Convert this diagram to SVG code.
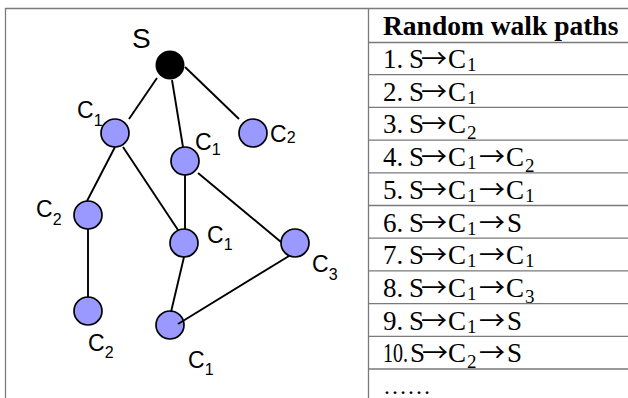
<svg xmlns="http://www.w3.org/2000/svg" width="628" height="398" viewBox="0 0 628 398">
<style>
.grid{stroke:#7a7a7a;stroke-width:1.3;fill:none}
.edge{stroke:#000;stroke-width:1.9;fill:none}
.node{fill:#9999ff;stroke:#000;stroke-width:1.7}
.lbl{font-family:"Liberation Sans",Arial,sans-serif;font-size:23px;fill:#000}
.sub{font-size:16px}
.t{font-family:"Liberation Serif","Times New Roman",serif;font-size:27px;fill:#000}
.ts{font-size:19px}
.ar{font-family:"Noto Sans CJK JP","DejaVu Sans",sans-serif;font-size:26px}
.hd{font-weight:bold;font-size:27.5px}
</style>
<rect width="628" height="398" fill="#fff"/>
<g id="table">
<path class="grid" d="M5 8.5H628M5.5 8V398M368.5 8V398"/>
<path class="grid" d="M368 42.5H628M368 74.7H628M368 107.4H628M368 140.1H628M368 172.8H628M368 205.5H628M368 238.2H628M368 270.9H628M368 303.6H628M368 336.3H628M368 369H628"/>
<text class="t hd" x="383" y="35">Random walk paths</text>
<text class="t" y="68"><tspan x="383">1.</tspan><tspan x="409">S</tspan><tspan class="ar" x="421">→</tspan><tspan x="448">C</tspan><tspan class="ts" x="467" dy="3">1</tspan></text>
<text class="t" y="100.7"><tspan x="383">2.</tspan><tspan x="409">S</tspan><tspan class="ar" x="421">→</tspan><tspan x="448">C</tspan><tspan class="ts" x="467" dy="3">1</tspan></text>
<text class="t" y="133.4"><tspan x="383">3.</tspan><tspan x="409">S</tspan><tspan class="ar" x="421">→</tspan><tspan x="448">C</tspan><tspan class="ts" x="467" dy="6">2</tspan></text>
<text class="t" y="166.1"><tspan x="383">4.</tspan><tspan x="409">S</tspan><tspan class="ar" x="421">→</tspan><tspan x="448">C</tspan><tspan class="ts" x="467" dy="3">1</tspan><tspan class="ar" x="479" dy="-3">→</tspan><tspan x="506">C</tspan><tspan class="ts" x="525" dy="6">2</tspan></text>
<text class="t" y="198.8"><tspan x="383">5.</tspan><tspan x="409">S</tspan><tspan class="ar" x="421">→</tspan><tspan x="448">C</tspan><tspan class="ts" x="467" dy="3">1</tspan><tspan class="ar" x="479" dy="-3">→</tspan><tspan x="506">C</tspan><tspan class="ts" x="525" dy="3">1</tspan></text>
<text class="t" y="231.5"><tspan x="383">6.</tspan><tspan x="409">S</tspan><tspan class="ar" x="421">→</tspan><tspan x="448">C</tspan><tspan class="ts" x="467" dy="3">1</tspan><tspan class="ar" x="479" dy="-3">→</tspan><tspan x="507">S</tspan></text>
<text class="t" y="264.2"><tspan x="383">7.</tspan><tspan x="409">S</tspan><tspan class="ar" x="421">→</tspan><tspan x="448">C</tspan><tspan class="ts" x="467" dy="3">1</tspan><tspan class="ar" x="479" dy="-3">→</tspan><tspan x="506">C</tspan><tspan class="ts" x="525" dy="3">1</tspan></text>
<text class="t" y="296.9"><tspan x="383">8.</tspan><tspan x="409">S</tspan><tspan class="ar" x="421">→</tspan><tspan x="448">C</tspan><tspan class="ts" x="467" dy="3">1</tspan><tspan class="ar" x="479" dy="-3">→</tspan><tspan x="506">C</tspan><tspan class="ts" x="525" dy="6">3</tspan></text>
<text class="t" y="329.6"><tspan x="383">9.</tspan><tspan x="409">S</tspan><tspan class="ar" x="421">→</tspan><tspan x="448">C</tspan><tspan class="ts" x="467" dy="3">1</tspan><tspan class="ar" x="479" dy="-3">→</tspan><tspan x="507">S</tspan></text>
<text class="t" y="362.3"><tspan x="383" textLength="25" lengthAdjust="spacingAndGlyphs">10.</tspan><tspan x="410">S</tspan><tspan class="ar" x="422">→</tspan><tspan x="448">C</tspan><tspan class="ts" x="467" dy="6">2</tspan><tspan class="ar" x="479" dy="-6">→</tspan><tspan x="507">S</tspan></text>
<text class="t" x="383" y="394" style="font-size:24px">……</text>
</g>
<g id="nodes">
<g id="nS"><circle cx="170" cy="65" r="14.5" fill="#000"/><text class="lbl" x="132" y="48" style="font-size:28px">S</text></g>
<g id="nC1a"><circle class="node" cx="115" cy="133" r="14"/><text class="lbl" x="77" y="118">C<tspan class="sub" dy="8">1</tspan></text></g>
<g id="nC1b"><circle class="node" cx="185" cy="161" r="14"/><text class="lbl" x="195" y="150">C<tspan class="sub" dy="5">1</tspan></text></g>
<g id="nC2a"><circle class="node" cx="253" cy="133" r="14"/><text class="lbl" x="270" y="142">C<tspan class="sub" dy="1">2</tspan></text></g>
<g id="nC2b"><circle class="node" cx="88" cy="215" r="14"/><text class="lbl" x="36" y="217">C<tspan class="sub" dy="8">2</tspan></text></g>
<g id="nC1c"><circle class="node" cx="184" cy="243" r="14"/><text class="lbl" x="207" y="243">C<tspan class="sub" dy="7">1</tspan></text></g>
<g id="nC3"><circle class="node" cx="295" cy="243" r="14"/><text class="lbl" x="312" y="272">C<tspan class="sub" dy="8">3</tspan></text></g>
<g id="nC2c"><circle class="node" cx="88" cy="311" r="14"/><text class="lbl" x="88" y="351">C<tspan class="sub" dy="7">2</tspan></text></g>
<g id="nC1d"><circle class="node" cx="170" cy="325" r="14"/><text class="lbl" x="188" y="368">C<tspan class="sub" dy="7">1</tspan></text></g>
</g>
<g id="connectors" class="edge">
<line x1="157" y1="78" x2="129" y2="119"/>
<line x1="172" y1="80" x2="183" y2="147"/>
<line x1="185" y1="67" x2="239" y2="119"/>
<line x1="115" y1="147" x2="87" y2="201"/>
<line x1="123" y1="147" x2="178" y2="230"/>
<line x1="185" y1="175" x2="185" y2="229"/>
<line x1="198" y1="173" x2="281" y2="242"/>
<line x1="88" y1="229" x2="88" y2="297"/>
<line x1="184" y1="257" x2="171" y2="312"/>
<line x1="289" y1="256" x2="178" y2="324"/>
</g>
</svg>
